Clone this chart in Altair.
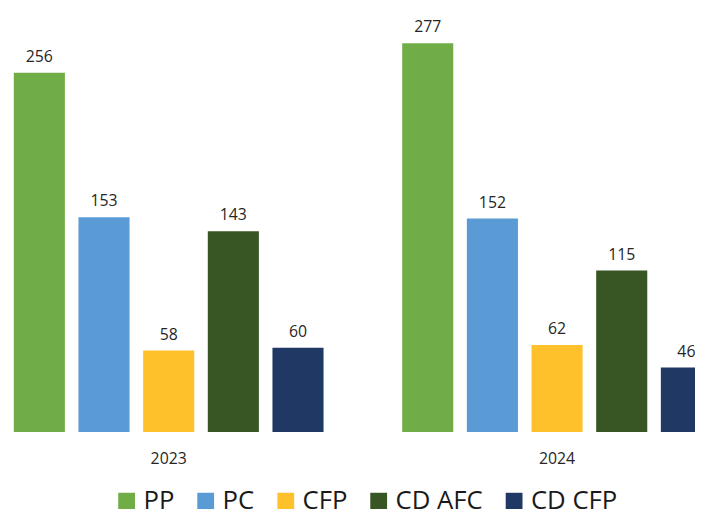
import altair as alt
import pandas as pd

years = ["2023", "2024"]
categories = ["PP", "PC", "CFP", "CD AFC", "CD CFP"]
values_2023 = [256, 153, 58, 143, 60]
values_2024 = [277, 152, 62, 115, 46]
colors = ["#70AD47", "#5B9BD5", "#FFC12B", "#375623", "#1F3864"]

rows = []
for c, v in zip(categories, values_2023):
    rows.append({"year": "2023", "category": c, "value": v})
for c, v in zip(categories, values_2024):
    rows.append({"year": "2024", "category": c, "value": v})
df = pd.DataFrame(rows)

FONT = "Open Sans"

base = alt.Chart(df).encode(
    x=alt.X(
        "year:N",
        sort=years,
        scale=alt.Scale(range=[-1, 719], paddingInner=0.1675, paddingOuter=0),
        axis=alt.Axis(
            title=None, labelAngle=0, domain=False, ticks=False, grid=False,
            labelFontSize=16, labelFont=FONT, labelColor="#262626", labelPadding=19,
        ),
    ),
    xOffset=alt.XOffset(
        "category:N", sort=categories,
        scale=alt.Scale(paddingInner=0.21, paddingOuter=0.105),
    ),
    y=alt.Y("value:Q", scale=alt.Scale(domain=[0, 300]), axis=None),
)

bars = base.mark_bar().encode(
    color=alt.Color(
        "category:N",
        sort=categories,
        scale=alt.Scale(domain=categories, range=colors),
        legend=alt.Legend(
            title=None, orient="none", direction="horizontal",
            legendX=107, legendY=483,
            symbolType="square", symbolSize=289, symbolStrokeWidth=0, symbolOpacity=1,
            labelFontSize=26, labelFont=FONT, labelColor="#1a1a1a",
            labelOffset=4, columnPadding=18, padding=0,
        ),
    )
)

labels = base.mark_text(
    dy=-11, baseline="alphabetic", fontSize=16, font=FONT, color="#262626"
).encode(text="value:Q")

chart = (
    (bars + labels)
    .properties(
        width=695, height=426,
        autosize=alt.AutoSizeParams(type="none"),
        padding={"left": 0, "top": 0, "right": 0, "bottom": 75},
        background="white",
    )
    .configure_view(stroke=None)
)

chart.save("out.html", embed_options={"renderer": "svg", "actions": False})
